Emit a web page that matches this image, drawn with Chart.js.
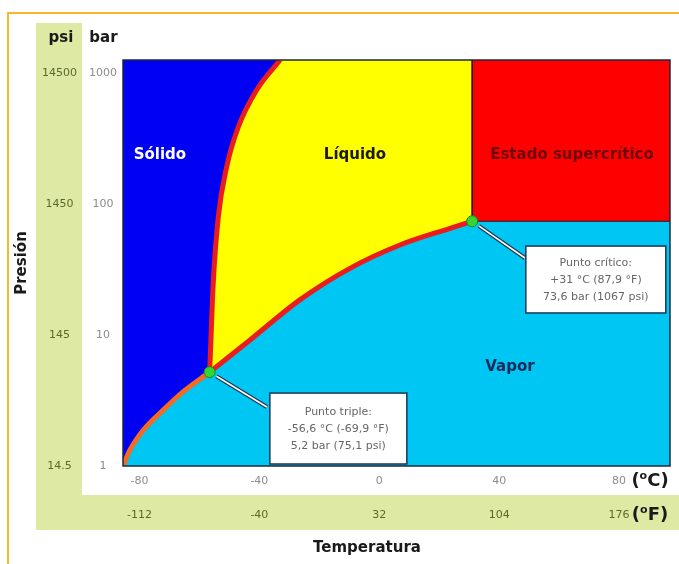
<!DOCTYPE html>
<html>
<head>
<meta charset="utf-8">
<script src="https://cdn.jsdelivr.net/npm/chart.js@4.4.1/dist/chart.umd.min.js"></script>
<style>
  html, body { margin: 0; padding: 0; background: #fff; }
  #wrap { width: 679px; height: 564px; }
</style>
</head>
<body>
<div id="wrap"><canvas id="phase" width="679" height="564"></canvas></div>
<script>
// --- values (temperature in °C, pressure in bar) ---
const sublimT = [-85.5, -83.2, -78.7, -72.1, -65.4, -56.6];
const sublimP = [1, 1.32, 1.88, 2.67, 3.69, 5.2];
const meltT = [-56.6, -56.3, -55.4, -53.7, -50.9, -47.0, -40.9, -33.1];
const meltP = [5.2, 7.67, 24.8, 79.7, 192, 387, 738, 1250];
const vapT = [-56.6, -43.1, -26.5, -9.8, 6.9, 23.6, 31];
const vapP = [5.2, 9.15, 18.5, 32.2, 48.5, 65.0, 73.6];
const superT = [31, 31, 97];
const superP = [1250, 73.6, 73.6];
const keyT = [-56.6, 31];    // punto triple, punto crítico
const keyP = [5.2, 73.6];

// tick labels
const barTicks = [1, 10, 100, 1000];
const psiLabels = ['14.5', '145', '1450', '14500'];
const tempTicksC = [-80, -40, 0, 40, 80];
const tempLabelsF = ['-112', '-40', '32', '104', '176'];

// region names and note boxes (placed in data units)
const regions = [
    { text: 'Sólido', t: -73.2, p: 236, color: '#ffffff' },
    { text: 'Líquido', t: -8.1, p: 236, color: '#1a1a1a' },
    { text: 'Estado supercrítico', t: 64.3, p: 236, color: '#6e0808' },
    { text: 'Vapor', t: 43.6, p: 5.69, color: '#1b2a5a' }
];
const notes = [
    { key: 0, lines: ['Punto triple:', '-56,6 °C (-69,9 °F)', '5,2 bar (75,1 psi)'],
      t0: -36.5, p0: 3.6, t1: 9.2, p1: 1.036, endT: -37.5, endP: 2.82 },
    { key: 1, lines: ['Punto crítico:', '+31 °C (87,9 °F)', '73,6 bar (1067 psi)'],
      t0: 48.9, p0: 47.6, t1: 95.6, p1: 14.7, endT: 48.6, endP: 38.6 }
];

const pts = (xs, ys) => xs.map((x, i) => ({ x: x, y: ys[i] }));
const FONT = 'DejaVu Sans';
const VAPOUR = '#00c6f3';

const decor = {
    id: 'decor',
    beforeDraw(chart) {
        const { ctx, chartArea: a, scales } = chart;
        const yp = scales.yP, xf = scales.xF;
        ctx.save();
        ctx.fillStyle = '#fff';
        ctx.fillRect(0, 0, chart.width, chart.height);
        // green strips behind psi and °F scales
        ctx.fillStyle = '#dee9a4';
        ctx.fillRect(yp.left, a.top - 37, yp.right - yp.left, xf.bottom - a.top + 37);
        ctx.fillRect(yp.left, xf.top, chart.width - yp.left, xf.bottom - xf.top);
        // vapour fills the plot background
        ctx.fillStyle = VAPOUR;
        ctx.fillRect(a.left, a.top, a.right - a.left, a.bottom - a.top);
        // orange frame
        ctx.strokeStyle = '#f9b72a';
        ctx.lineWidth = 2;
        ctx.beginPath();
        ctx.moveTo(8, chart.height);
        ctx.lineTo(8, 13);
        ctx.lineTo(chart.width, 13);
        ctx.stroke();
        ctx.restore();
    },
    afterDatasetsDraw(chart) {
        const { ctx, chartArea: a, scales: { x, y } } = chart;
        ctx.save();
        // plot border
        ctx.strokeStyle = '#1c2a3a';
        ctx.lineWidth = 1.5;
        ctx.strokeRect(a.left, a.top, a.right - a.left, a.bottom - a.top);

        ctx.font = 'bold 15px ' + FONT;
        ctx.textAlign = 'center';
        ctx.textBaseline = 'middle';
        regions.forEach(r => {
            ctx.fillStyle = r.color;
            ctx.fillText(r.text, x.getPixelForValue(r.t), y.getPixelForValue(r.p));
        });

        notes.forEach(n => {
            const dx = x.getPixelForValue(keyT[n.key]), dy = y.getPixelForValue(keyP[n.key]);
            const ex = x.getPixelForValue(n.endT), ey = y.getPixelForValue(n.endP);
            const ang = Math.atan2(ey - dy, ex - dx);
            const sx = dx + Math.cos(ang) * 8, sy = dy + Math.sin(ang) * 8;
            ctx.lineCap = 'butt';
            ctx.strokeStyle = '#1d3550';
            ctx.lineWidth = 4;
            ctx.beginPath(); ctx.moveTo(sx, sy); ctx.lineTo(ex, ey); ctx.stroke();
            ctx.strokeStyle = '#ffffff';
            ctx.lineWidth = 1.6;
            ctx.beginPath(); ctx.moveTo(sx, sy); ctx.lineTo(ex, ey); ctx.stroke();

            const bx = x.getPixelForValue(n.t0), by = y.getPixelForValue(n.p0);
            const bw = x.getPixelForValue(n.t1) - bx, bh = y.getPixelForValue(n.p1) - by;
            ctx.fillStyle = '#ffffff';
            ctx.fillRect(bx, by, bw, bh);
            ctx.strokeStyle = '#1d3550';
            ctx.lineWidth = 1.5;
            ctx.strokeRect(bx, by, bw, bh);
            ctx.fillStyle = '#666666';
            ctx.font = '11px ' + FONT;
            const cy = by + bh / 2;
            n.lines.forEach((s, i) => ctx.fillText(s, bx + bw / 2, cy + (i - 1) * 17 + 1));
        });
        ctx.restore();
    },
    afterDraw(chart) {
        const { ctx, chartArea: a, scales } = chart;
        ctx.save();
        ctx.fillStyle = '#1a1a1a';
        ctx.textAlign = 'center';
        ctx.textBaseline = 'middle';
        ctx.font = 'bold 15px ' + FONT;
        ctx.fillText('psi', (scales.yP.left + scales.yP.right) / 2 + 2, 38);
        ctx.fillText('bar', (scales.y.left + scales.y.right) / 2 + 1, 38);
        ctx.fillText('Temperatura', 367, 548);

        ctx.save();
        ctx.translate(22, (a.top + a.bottom) / 2);
        ctx.rotate(-Math.PI / 2);
        ctx.fillText('Presión', 0, 0);
        ctx.restore();

        // unit labels with a raised "o"
        const unit = (letter, cx, cy) => {
            ctx.textAlign = 'left';
            ctx.font = 'bold 18px ' + FONT;
            const w1 = ctx.measureText('(').width, w3 = ctx.measureText(letter + ')').width;
            ctx.font = 'bold 11px ' + FONT;
            const w2 = ctx.measureText('o').width;
            let px = cx - (w1 + w2 + w3) / 2;
            ctx.font = 'bold 18px ' + FONT;
            ctx.fillText('(', px, cy);
            ctx.font = 'bold 11px ' + FONT;
            ctx.fillText('o', px + w1, cy - 5);
            ctx.font = 'bold 18px ' + FONT;
            ctx.fillText(letter + ')', px + w1 + w2, cy);
        };
        unit('C', a.right - 20, 481);
        unit('F', a.right - 20, 515);
        ctx.restore();
    }
};

const tickFont = { family: FONT, size: 11 };
const curve = { pointRadius: 0, cubicInterpolationMode: 'monotone' };
const noLine = { borderColor: 'rgba(0,0,0,0)', borderWidth: 0 };

new Chart(document.getElementById('phase'), {
    type: 'line',
    data: {
        datasets: [
            { // liquid: above vaporisation curve
                ...curve, ...noLine, data: pts(vapT, vapP), fill: 'end', backgroundColor: '#ffff00', order: 10
            },
            { // solid: left of sublimation + melting curves
                ...curve, ...noLine, data: pts(sublimT.concat(meltT.slice(1)), sublimP.concat(meltP.slice(1))),
                fill: 'end', backgroundColor: '#0000f2', order: 9
            },
            { // supercritical
                data: pts(superT, superP), fill: 'end', backgroundColor: '#ff0000',
                borderColor: '#2a1414', borderWidth: 1, pointRadius: 0, tension: 0, order: 8
            },
            { // vapour again below the sublimation curve (trims the solid fill at the triple point)
                ...curve, ...noLine, data: pts(sublimT, sublimP), fill: 'start', backgroundColor: VAPOUR, order: 7
            },
            {
                ...curve, data: pts(sublimT, sublimP), borderColor: '#f36a21', borderWidth: 5,
                borderCapStyle: 'round', fill: false, order: 5
            },
            {
                ...curve, data: pts(vapT, vapP), borderColor: '#ea1c1c', borderWidth: 5,
                fill: false, order: 4
            },
            {
                ...curve, data: pts(meltT, meltP), borderColor: '#ea1c1c', borderWidth: 5,
                fill: false, order: 3
            },
            {
                data: pts(keyT, keyP), showLine: false, pointRadius: 5.5,
                pointBackgroundColor: '#34d434', pointBorderColor: '#1c8a1c', pointBorderWidth: 1, order: 1
            }
        ]
    },
    options: {
        responsive: false,
        animation: false,
        devicePixelRatio: 1,
        layout: { padding: { left: 36, top: 60, right: 9, bottom: 34 } },
        plugins: { legend: { display: false }, tooltip: { enabled: false } },
        scales: {
            x: {
                type: 'linear', position: 'bottom', min: -85.5, max: 97, weight: 0,
                grid: { display: false, drawTicks: false }, border: { display: false },
                afterBuildTicks: s => { s.ticks = tempTicksC.map(v => ({ value: v })); },
                afterFit: s => { s.height = 29; },
                ticks: { padding: 9, color: '#8c8c8c', font: tickFont, maxRotation: 0, autoSkip: false,
                         callback: (v, i) => String(tempTicksC[i]) }
            },
            xF: {
                axis: 'x', type: 'linear', position: 'bottom', min: -85.5, max: 97, weight: 1,
                grid: { display: false, drawTicks: false }, border: { display: false },
                afterBuildTicks: s => { s.ticks = tempTicksC.map(v => ({ value: v })); },
                afterFit: s => { s.height = 35; },
                ticks: { padding: 14, color: '#5a6a28', font: tickFont, maxRotation: 0, autoSkip: false,
                         callback: (v, i) => tempLabelsF[i] }
            },
            y: {
                type: 'logarithmic', position: 'left', min: 1, max: 1250, weight: 0,
                grid: { display: false, drawTicks: false }, border: { display: false },
                afterBuildTicks: s => { s.ticks = barTicks.map(v => ({ value: v })); },
                afterFit: s => { s.width = 41; },
                ticks: { padding: 6, crossAlign: 'center', color: '#8c8c8c', font: tickFont, autoSkip: false,
                         callback: (v, i) => String(barTicks[i]) }
            },
            yP: {
                axis: 'y', type: 'logarithmic', position: 'left', min: 1, max: 1250, weight: 1,
                grid: { display: false, drawTicks: false }, border: { display: false },
                afterBuildTicks: s => { s.ticks = barTicks.map(v => ({ value: v })); },
                afterFit: s => { s.width = 46; },
                ticks: { padding: 5, crossAlign: 'center', color: '#5a6a28', font: tickFont, autoSkip: false,
                         callback: (v, i) => psiLabels[i] }
            }
        }
    },
    plugins: [decor]
});
</script>
</body>
</html>
